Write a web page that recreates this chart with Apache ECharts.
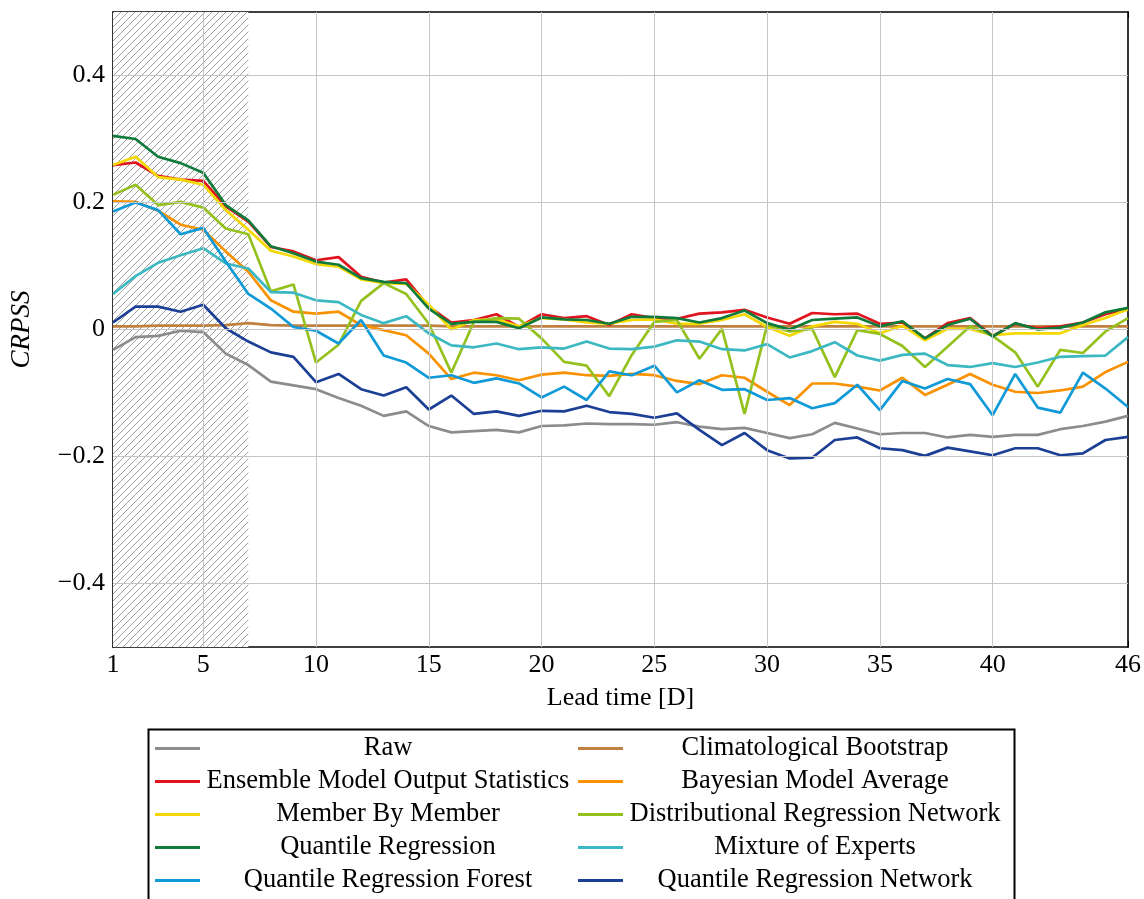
<!DOCTYPE html>
<html>
<head>
<meta charset="utf-8">
<script src="https://cdn.jsdelivr.net/npm/echarts@6/dist/echarts.min.js"></script>
<style>
html,body{margin:0;padding:0;background:#fff;}
#chart{width:1144px;height:899px;}
</style>
</head>
<body>
<div id="chart"></div>
<script>
var days = [];
for (var d = 1; d <= 46; d++) days.push(d);

var xTicks = [1, 5, 10, 15, 20, 25, 30, 35, 40, 46];
var xGrid = [5, 10, 15, 20, 25, 30, 35, 40];
var yTicks = [-0.4, -0.2, 0, 0.2, 0.4];
var trainingEnd = 7;

var raw = [-0.032,-0.012,-0.010,-0.002,-0.004,-0.038,-0.056,-0.082,
  -0.088,-0.094,-0.108,-0.120,-0.136,-0.129,-0.152,-0.162,
  -0.160,-0.158,-0.162,-0.152,-0.151,-0.148,-0.149,-0.149,
  -0.150,-0.146,-0.153,-0.157,-0.155,-0.163,-0.171,
  -0.165,-0.147,-0.156,-0.165,-0.163,-0.163,-0.170,-0.166,
  -0.169,-0.166,-0.166,-0.157,-0.152,-0.145,-0.136];
var cb = [0.005,0.005,0.006,0.006,0.006,0.007,0.010,0.007,
  0.006,0.006,0.006,0.006,0.006,0.006,0.006,0.005,
  0.005,0.005,0.005,0.005,0.005,0.005,0.005,0.005,
  0.005,0.005,0.005,0.005,0.005,0.005,0.005,
  0.005,0.005,0.005,0.005,0.005,0.005,0.005,0.005,
  0.005,0.005,0.005,0.005,0.005,0.005,0.005];
var emos = [0.259,0.263,0.242,0.236,0.234,0.194,0.170,0.130,
  0.123,0.109,0.114,0.083,0.074,0.079,0.036,0.011,
  0.015,0.024,0.004,0.024,0.018,0.021,0.007,0.024,
  0.018,0.017,0.025,0.027,0.031,0.019,0.009,
  0.026,0.024,0.025,0.009,0.011,-0.014,0.010,0.018,
  -0.010,0.009,0.002,0.005,0.011,0.024,0.033];
var bma = [0.202,0.201,0.187,0.165,0.157,0.123,0.091,0.046,
  0.028,0.025,0.028,0.007,-0.001,-0.009,-0.038,-0.078,
  -0.068,-0.072,-0.080,-0.071,-0.068,-0.072,-0.073,-0.070,
  -0.072,-0.081,-0.086,-0.072,-0.076,-0.098,-0.119,
  -0.085,-0.085,-0.090,-0.096,-0.076,-0.103,-0.087,-0.070,
  -0.087,-0.098,-0.100,-0.096,-0.090,-0.067,-0.051];
var mbm = [0.259,0.272,0.240,0.236,0.228,0.188,0.157,0.124,
  0.115,0.103,0.099,0.079,0.073,0.072,0.039,0.000,
  0.015,0.016,0.005,0.018,0.016,0.011,0.009,0.015,
  0.016,0.009,0.009,0.015,0.024,0.004,-0.010,
  0.005,0.012,0.009,-0.006,0.006,-0.017,0.001,0.001,
  -0.009,-0.006,-0.006,-0.006,0.007,0.018,0.032];
var drn = [0.212,0.228,0.196,0.201,0.192,0.159,0.150,0.060,
  0.071,-0.052,-0.024,0.045,0.073,0.056,0.009,-0.068,
  0.012,0.018,0.017,-0.014,-0.051,-0.057,-0.105,-0.040,
  0.012,0.015,-0.046,0.001,-0.133,0.007,-0.003,
  0.001,-0.075,-0.001,-0.007,-0.026,-0.059,-0.027,0.005,
  -0.010,-0.036,-0.090,-0.032,-0.037,-0.003,0.018];
var qr = [0.305,0.300,0.272,0.262,0.247,0.196,0.172,0.131,
  0.120,0.107,0.102,0.081,0.075,0.073,0.033,0.009,
  0.012,0.012,0.002,0.019,0.016,0.015,0.009,0.020,
  0.020,0.018,0.011,0.018,0.030,0.010,0.000,
  0.015,0.017,0.019,0.005,0.013,-0.014,0.007,0.017,
  -0.011,0.010,0.000,0.003,0.011,0.027,0.034];
var moe = [0.056,0.084,0.105,0.117,0.128,0.104,0.096,0.059,
  0.058,0.046,0.043,0.023,0.010,0.021,-0.006,-0.025,
  -0.028,-0.022,-0.031,-0.028,-0.030,-0.019,-0.030,-0.031,
  -0.027,-0.017,-0.019,-0.031,-0.033,-0.023,-0.044,
  -0.034,-0.020,-0.041,-0.049,-0.040,-0.038,-0.056,-0.059,
  -0.053,-0.059,-0.052,-0.043,-0.042,-0.041,-0.012];
var qrf = [0.186,0.200,0.188,0.150,0.160,0.107,0.056,0.033,
  0.004,-0.002,-0.022,0.015,-0.041,-0.052,-0.076,-0.072,
  -0.084,-0.077,-0.085,-0.107,-0.090,-0.111,-0.066,-0.072,
  -0.057,-0.099,-0.080,-0.095,-0.094,-0.111,-0.108,
  -0.124,-0.116,-0.087,-0.127,-0.081,-0.093,-0.078,-0.086,
  -0.135,-0.070,-0.123,-0.131,-0.068,-0.093,-0.122];
var qrn = [0.011,0.036,0.036,0.028,0.039,0.002,-0.019,-0.036,
  -0.043,-0.083,-0.070,-0.094,-0.104,-0.091,-0.126,-0.104,
  -0.133,-0.129,-0.136,-0.128,-0.129,-0.120,-0.130,-0.133,
  -0.139,-0.132,-0.158,-0.182,-0.163,-0.190,-0.203,
  -0.202,-0.174,-0.170,-0.187,-0.190,-0.199,-0.186,-0.192,
  -0.198,-0.187,-0.187,-0.198,-0.195,-0.174,-0.169];

var names = ['Raw','Climatological Bootstrap','Ensemble Model Output Statistics','Bayesian Model Average',
  'Member By Member','Distributional Regression Network','Quantile Regression','Mixture of Experts',
  'Quantile Regression Forest','Quantile Regression Network'];
var values = [raw, cb, emos, bma, mbm, drn, qr, moe, qrf, qrn];
var colors = ['#8c8c8c','#c0803f','#e0141e','#f99200','#f5d800','#95c11f','#0f7a3a','#3bb8c2','#109ad8','#1c3f96'];

var FONT = '"Liberation Serif", "DejaVu Serif", serif';

// hatch pattern
var pc = document.createElement('canvas');
pc.width = 7; pc.height = 7;
var pctx = pc.getContext('2d');
pctx.fillStyle = '#ffffff';
pctx.fillRect(0, 0, 7, 7);
pctx.strokeStyle = '#8e8e8e';
pctx.lineWidth = 0.85;
pctx.beginPath();
pctx.moveTo(-1, 8); pctx.lineTo(8, -1);
pctx.moveTo(-1, 1); pctx.lineTo(1, -1);
pctx.moveTo(6, 8); pctx.lineTo(8, 6);
pctx.stroke();

var chart = echarts.init(document.getElementById('chart'), null, {renderer: 'canvas'});

var series = [{
  type: 'line',
  data: [],
  silent: true,
  z: 1,
  markArea: {
    silent: true,
    itemStyle: {color: {image: pc, repeat: 'repeat'}, borderColor: '#333', borderWidth: 0},
    data: [[{xAxis: 1}, {xAxis: trainingEnd}]]
  },
  markLine: {
    silent: true,
    symbol: 'none',
    label: {show: false},
    lineStyle: {color: '#c6c6c6', width: 1, type: 'solid'},
    data: xGrid.map(function (v) { return {xAxis: v}; }).concat(yTicks.map(function (v) { return {yAxis: v}; }))
  }
}];
names.forEach(function (n, i) {
  series.push({
    name: n,
    type: 'line',
    symbol: 'none',
    z: 3,
    lineStyle: {width: 2.7, color: colors[i]},
    itemStyle: {color: colors[i]},
    data: days.map(function (d, k) { return [d, values[i][k]]; })
  });
});

function legendCfg(list, left, w) {
  return {
    orient: 'vertical',
    left: left,
    top: 735,
    padding: 0,
    height: 164,
    itemWidth: 45,
    itemHeight: 3,
    itemGap: 6,
    icon: 'rect',
    selectedMode: false,
    data: list,
    formatter: function (n) { return '{c|' + n + '}'; },
    textStyle: {
      fontFamily: FONT, fontSize: 26.5, color: '#000',
      rich: {c: {width: w, align: 'center', fontFamily: FONT, fontSize: 26.5, color: '#000', lineHeight: 27}}
    }
  };
}

var yFmt = function (v) {
  if (Math.abs(v) < 1e-9) return '0';
  return (v < 0 ? '\u2212' : '') + Math.abs(v).toFixed(1);
};

chart.setOption({
  animation: false,
  backgroundColor: '#fff',
  grid: {left: 113, top: 12, right: 16, bottom: 252, containLabel: false},
  xAxis: [{
    type: 'value', min: 1, max: 46, position: 'bottom',
    name: 'Lead time [D]', nameLocation: 'middle', nameGap: 22,
    nameTextStyle: {fontFamily: FONT, fontSize: 26, color: '#000', verticalAlign: 'top', padding: [16, 0, 0, 0]},
    axisLine: {show: true, onZero: false, lineStyle: {color: '#000', width: 1.6}},
    axisTick: {show: true, inside: true, length: 6, customValues: xTicks, lineStyle: {color: '#000', width: 1}},
    axisLabel: {customValues: xTicks, fontFamily: FONT, fontSize: 26, color: '#000', margin: 5},
    splitLine: {show: false}
  }, {
    type: 'value', min: 1, max: 46, position: 'top',
    axisLine: {show: true, onZero: false, lineStyle: {color: '#000', width: 1.6}},
    axisTick: {show: true, inside: true, length: 6, customValues: xTicks, lineStyle: {color: '#000', width: 1}},
    axisLabel: {show: false},
    splitLine: {show: false}
  }],
  yAxis: [{
    type: 'value', min: -0.5, max: 0.5, position: 'left',
    name: 'CRPSS', nameLocation: 'middle', nameGap: 78, nameRotate: 90,
    nameTextStyle: {fontFamily: FONT, fontSize: 27, fontStyle: 'italic', color: '#000'},
    axisLine: {show: true, onZero: false, lineStyle: {color: '#000', width: 1.6}},
    axisTick: {show: true, inside: true, length: 6, customValues: yTicks, lineStyle: {color: '#000', width: 1}},
    axisLabel: {customValues: yTicks, formatter: yFmt, fontFamily: FONT, fontSize: 26, color: '#000', margin: 8},
    splitLine: {show: false}
  }, {
    type: 'value', min: -0.5, max: 0.5, position: 'right',
    axisLine: {show: true, onZero: false, lineStyle: {color: '#000', width: 1.6}},
    axisTick: {show: true, inside: true, length: 6, customValues: yTicks, lineStyle: {color: '#000', width: 1}},
    axisLabel: {show: false},
    splitLine: {show: false}
  }],
  legend: [
    legendCfg(['Raw','Ensemble Model Output Statistics','Member By Member','Quantile Regression','Quantile Regression Forest'], 155, 366),
    legendCfg(['Climatological Bootstrap','Bayesian Model Average','Distributional Regression Network','Mixture of Experts','Quantile Regression Network'], 578, 374)
  ],
  graphic: [{
    type: 'rect',
    left: 146, top: 727,
    shape: {x: 0, y: 0, width: 866, height: 190},
    style: {fill: 'none', stroke: '#000', lineWidth: 2},
    silent: true
  }],
  series: series
});
</script>
</body>
</html>
